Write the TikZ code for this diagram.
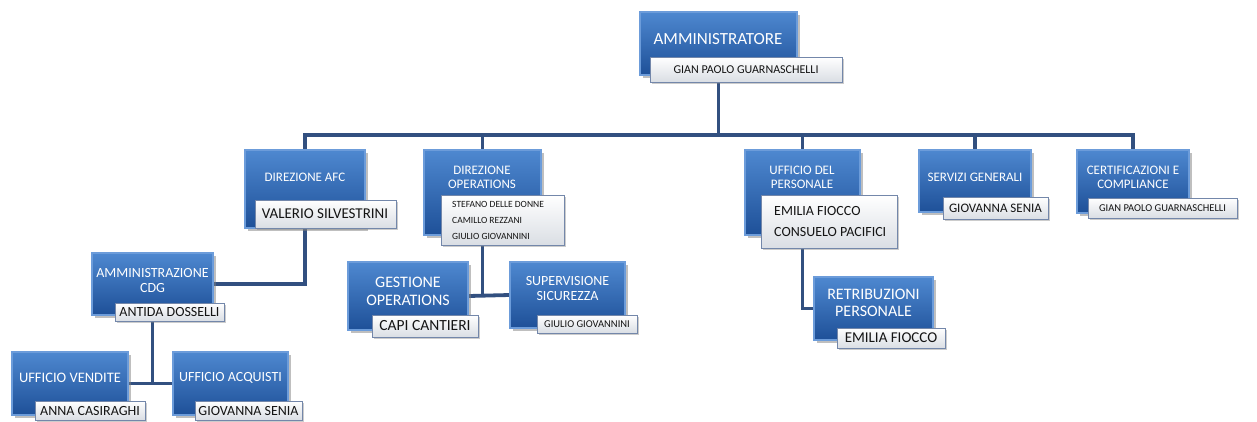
\documentclass[tikz,border=0pt]{standalone}
\usepackage{fontspec}
\setmainfont{Carlito}
\usetikzlibrary{shadows,backgrounds}
\definecolor{bluetop}{RGB}{78,136,208}
\definecolor{bluebot}{RGB}{30,80,152}
\definecolor{blueedge}{RGB}{108,156,218}
\definecolor{namebot}{RGB}{218,222,228}
\definecolor{nameedge}{RGB}{115,135,170}
\definecolor{conncol}{RGB}{50,80,128}
\definecolor{nametext}{RGB}{20,20,20}
\begin{document}
\begin{tikzpicture}[x=1pt,y=-1pt,
  bluebox/.style={draw=blueedge, line width=1.4pt, top color=bluetop, bottom color=bluebot,
    drop shadow={opacity=0.5,shadow xshift=2.5pt,shadow yshift=-2.5pt}, inner sep=0pt},
  namebox/.style={draw=nameedge, line width=0.8pt, top color=white, bottom color=namebot,
    drop shadow={opacity=0.4,shadow xshift=1.5pt,shadow yshift=-1.5pt}, inner sep=0pt},
  btext/.style={text=white, align=center, inner sep=0pt, font=\fontsize{13}{14}\selectfont},
  ntext/.style={text=nametext, align=center, inner sep=0pt},
  conn/.style={draw=conncol, line width=3.8pt}]
\useasboundingbox (0,0) rectangle (1257,421);

% ---- top
\node[bluebox, minimum width=157pt, minimum height=63pt] (admin) at (718.5,43.5) {};
\node[btext, font=\fontsize{17}{20}\selectfont] (admint) at (718,39) {AMMINISTRATORE};
\node[namebox, minimum width=192pt, minimum height=25pt] (adminN) at (746,69.5) {};
\node[ntext, font=\fontsize{12}{14}\selectfont] (adminNt) at (746,70) {GIAN PAOLO GUARNASCHELLI};

% ---- row 2
\node[bluebox, minimum width=120pt, minimum height=78pt] (afc) at (305,189) {};
\node[btext] (afct) at (305,177) {DIREZIONE AFC};
\node[namebox, minimum width=141pt, minimum height=28pt] (afcN) at (325.5,214) {};
\node[ntext, font=\fontsize{15}{17}\selectfont] (afcNt) at (325,214) {VALERIO SILVESTRINI};

\node[bluebox, minimum width=117pt, minimum height=85pt] (ops) at (482.5,192.5) {};
\node[btext] (opst) at (482,177) {DIREZIONE\\OPERATIONS};
\node[namebox, minimum width=123pt, minimum height=50pt] (opsN) at (502.5,220) {};
\node[ntext, align=left, anchor=west, font=\fontsize{9.5}{16}\selectfont] (opsNt) at (452,220.5)
  {STEFANO DELLE DONNE\\CAMILLO REZZANI\\GIULIO GIOVANNINI};

\node[bluebox, minimum width=115pt, minimum height=85pt] (pers) at (802.5,192.5) {};
\node[btext] (perst) at (802,177) {UFFICIO DEL\\PERSONALE};
\node[namebox, minimum width=136pt, minimum height=53pt] (persN) at (829,221.5) {};
\node[ntext, align=left, anchor=west, font=\fontsize{14}{21}\selectfont] (persNt) at (774,222)
  {EMILIA FIOCCO\\CONSUELO PACIFICI};

\node[bluebox, minimum width=112pt, minimum height=62pt] (serv) at (975,181) {};
\node[btext] (servt) at (975,177) {SERVIZI GENERALI};
\node[namebox, minimum width=105pt, minimum height=22pt] (servN) at (995.5,208) {};
\node[ntext, font=\fontsize{13}{15}\selectfont] (servNt) at (995.5,208) {GIOVANNA SENIA};

\node[bluebox, minimum width=112pt, minimum height=63pt] (cert) at (1133,181.5) {};
\node[btext] (certt) at (1133,177) {CERTIFICAZIONI E\\COMPLIANCE};
\node[namebox, minimum width=149pt, minimum height=20pt] (certN) at (1162.5,208) {};
\node[ntext, font=\fontsize{10.5}{12}\selectfont] (certNt) at (1162.5,208) {GIAN PAOLO GUARNASCHELLI};

% ---- lower left
\node[bluebox, minimum width=121pt, minimum height=62pt] (cdg) at (152.5,284) {};
\node[btext, font=\fontsize{14}{15}\selectfont] (cdgt) at (152.5,280) {AMMINISTRAZIONE\\CDG};
\node[namebox, minimum width=109pt, minimum height=18pt] (cdgN) at (169.5,312) {};
\node[ntext, font=\fontsize{14}{16}\selectfont] (cdgNt) at (169.5,312) {ANTIDA DOSSELLI};

\node[bluebox, minimum width=116pt, minimum height=63pt] (vend) at (70,383.5) {};
\node[btext, font=\fontsize{14.5}{16}\selectfont] (vendt) at (70,378) {UFFICIO VENDITE};
\node[namebox, minimum width=110pt, minimum height=19pt] (vendN) at (90,410.5) {};
\node[ntext, font=\fontsize{14}{16}\selectfont] (vendNt) at (90,410.5) {ANNA CASIRAGHI};

\node[bluebox, minimum width=115pt, minimum height=63pt] (acq) at (230.5,383.5) {};
\node[btext, font=\fontsize{14}{16}\selectfont] (acqt) at (230.5,378) {UFFICIO ACQUISTI};
\node[namebox, minimum width=107pt, minimum height=19pt] (acqN) at (248.5,410.5) {};
\node[ntext, font=\fontsize{14}{16}\selectfont] (acqNt) at (248.5,410.5) {GIOVANNA SENIA};

% ---- operations children
\node[bluebox, minimum width=120pt, minimum height=68pt] (gest) at (408,296) {};
\node[btext, font=\fontsize{16}{18}\selectfont] (gestt) at (408,291) {GESTIONE\\OPERATIONS};
\node[namebox, minimum width=106pt, minimum height=22pt] (gestN) at (425,326) {};
\node[ntext, font=\fontsize{15.5}{17}\selectfont] (gestNt) at (425,326) {CAPI CANTIERI};

\node[bluebox, minimum width=115pt, minimum height=66pt] (sup) at (567.5,295) {};
\node[btext, font=\fontsize{14}{15}\selectfont] (supt) at (567.5,289) {SUPERVISIONE\\SICUREZZA};
\node[namebox, minimum width=100pt, minimum height=18pt] (supN) at (587,324) {};
\node[ntext, font=\fontsize{10.5}{12}\selectfont] (supNt) at (587,324) {GIULIO GIOVANNINI};

% ---- personale child
\node[bluebox, minimum width=119pt, minimum height=63pt] (retr) at (873.5,308.5) {};
\node[btext, font=\fontsize{16}{17}\selectfont] (retrt) at (873.5,303) {RETRIBUZIONI\\PERSONALE};
\node[namebox, minimum width=108pt, minimum height=20pt] (retrN) at (891,338) {};
\node[ntext, font=\fontsize{15}{17}\selectfont] (retrNt) at (891,338) {EMILIA FIOCCO};

% ---- connectors
\begin{scope}[on background layer]
\coordinate (bus) at (0,135);
\draw[conn] (admin.center) -- (admin.center |- bus);
\draw[conn, line cap=rect] (afc.north |- bus) -- (cert.north |- bus);
\foreach \n in {afc,ops,pers,serv,cert} \draw[conn] (\n.north |- bus) -- (\n.north);
\draw[conn] (afc.center) |- (cdg.east);
\draw[conn] (cdg.center) -- (cdg.center |- vend.east);
\draw[conn] (vend.east) -- (acq.west);
\draw[conn] (ops.center) -- (ops.center |- gest.east);
\draw[conn] (gest.east) -- (sup.west);
\draw[conn] (pers.center) |- (retr.west);
\end{scope}
\end{tikzpicture}
\end{document}
